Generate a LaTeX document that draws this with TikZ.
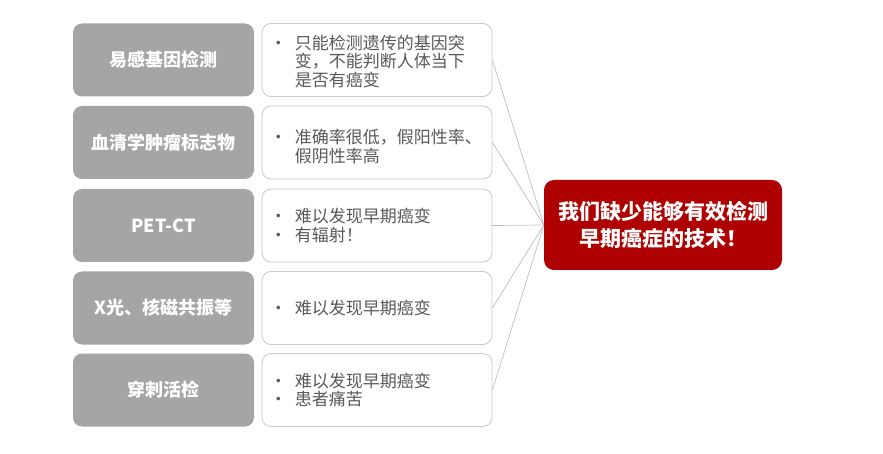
\documentclass[tikz,border=0pt]{standalone}
\usepackage{fontspec}
\setmainfont{Noto Sans CJK SC}
\definecolor{boxgray}{HTML}{A5A5A5}
\definecolor{edgegray}{HTML}{CACACA}
\definecolor{descgray}{HTML}{595959}
\definecolor{linegray}{HTML}{BDBDBD}
\definecolor{darkred}{HTML}{AE0000}
\newcommand\bl{\makebox[21pt][l]{\hspace{-4pt}•}}
\newcommand\ind{\hspace*{21pt}}
\begin{document}
\begin{tikzpicture}[x=1pt,y=-1pt,
 graybox/.style={rounded corners=9pt, fill=boxgray, minimum width=181pt, minimum height=73pt, text=white, font=\fontsize{18}{20}\selectfont\bfseries, inner sep=0},
 whitebox/.style={rounded corners=9pt, draw=edgegray, line width=0.8pt, fill=white, minimum width=230pt, minimum height=73pt, inner sep=0},
 desc/.style={anchor=west, text=descgray, font=\fontsize{17}{18.5}\selectfont, inner sep=0, align=left},
 redbox/.style={rounded corners=10pt, fill=darkred, minimum width=238pt, minimum height=90pt, text=white, font=\fontsize{21}{27}\selectfont\bfseries, align=center, inner sep=0},
 link/.style={draw=linegray, line width=0.7pt}]
\useasboundingbox (0,0) rectangle (883,454);
% red target
\node[redbox] (r) at (663,225) {我们缺少能够有效检测\\早期癌症的技术！};
% rows
\node[graybox] (g1) at (163.5,60) {易感基因检测};
\node[graybox] (g2) at (163.5,142.5) {血清学肿瘤标志物};
\node[graybox] (g3) at (163.5,225.5) {PET-CT};
\node[graybox] (g4) at (163.5,308) {X光、核磁共振等};
\node[graybox] (g5) at (163.5,390) {穿刺活检};
\node[whitebox] (w1) at (377,60) {};
\node[whitebox] (w2) at (377,142.5) {};
\node[whitebox] (w3) at (377,225.5) {};
\node[whitebox] (w4) at (377,308) {};
\node[whitebox] (w5) at (377,390) {};
\node[desc] (t1) at ([xshift=12pt,yshift=-1.5pt]w1.west) {\bl 只能检测遗传的基因突\\\ind 变，不能判断人体当下\\\ind 是否有癌变};
\node[desc] (t2) at ([xshift=12pt,yshift=-4pt]w2.west) {\bl 准确率很低，假阳性率、\\\ind 假阴性率高};
\node[desc] (t3) at ([xshift=12pt]w3.west) {\bl 难以发现早期癌变\\\bl 有辐射！};
\node[desc] (t4) at ([xshift=12pt]w4.west) {\bl 难以发现早期癌变};
\node[desc] (t5) at ([xshift=12pt]w5.west) {\bl 难以发现早期癌变\\\bl 患者痛苦};
% connectors
\foreach \i in {1,...,5} \draw[link] (w\i.east) -- (r.west);
\end{tikzpicture}
\end{document}
